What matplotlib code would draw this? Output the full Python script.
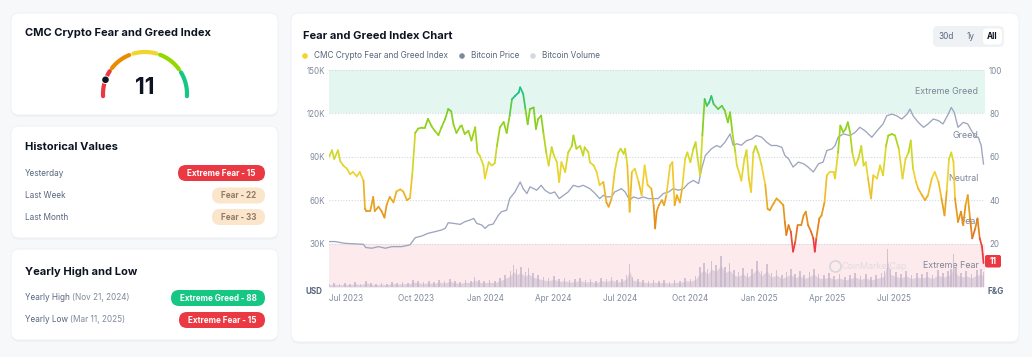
import numpy as np
import pandas as pd
import matplotlib
matplotlib.use("Agg")
import matplotlib.pyplot as plt
from matplotlib.patches import FancyBboxPatch, Circle
from matplotlib.collections import LineCollection
from matplotlib.colors import LinearSegmentedColormap
import matplotlib.dates as mdates

plt.rcParams["font.family"] = ["Inter", "DejaVu Sans"]

# ---------------- data ----------------
START = "2023-07-01"

fg_days = [0, 4, 7, 12, 15, 19, 24, 28, 32, 37, 41, 46, 48, 50, 55, 59, 61, 66, 70, 74, 77, 81, 86, 90,
           95, 99, 104, 108, 111, 115, 119, 124, 128, 132, 137, 141, 146, 150, 155, 159, 163, 166, 170, 175,
           177, 181, 186, 190, 195, 198, 201, 206, 208, 210, 213, 217, 221, 224, 228, 233, 237, 241, 244,
           248, 253, 255, 259, 262, 265, 268, 273, 276, 279, 283, 286, 290, 293, 297, 300, 304, 307, 310,
           315, 319, 324, 326, 330, 335, 339, 341, 346, 348, 353, 357, 361, 366, 370, 373, 377, 381, 386,
           389, 393, 395, 398, 401, 404, 408, 413, 417, 421, 425, 430, 433, 435, 437, 440, 444, 447, 450,
           455, 458, 461, 464, 468, 471, 475, 478, 482, 486, 489, 493, 495, 498, 501, 504, 507, 510, 513,
           519, 524, 528, 532, 535, 538, 542, 544, 547, 550, 554, 557, 560, 563, 566, 569, 573, 577, 582,
           585, 588, 593, 597, 602, 606, 608, 610, 613, 616, 619, 622, 625, 630, 633, 636, 639, 643, 646,
           648, 650, 654, 657, 661, 664, 668, 673, 675, 679, 682, 686, 689, 692, 695, 698, 702, 706, 710,
           713, 716, 719, 723, 726, 731, 735, 739, 743, 746, 751, 755, 760, 765, 769, 773, 776, 779, 783,
           786, 791, 795, 799, 804, 808, 813, 817, 821, 824, 827, 830, 833, 835, 839, 843, 846, 849, 852,
           855, 858, 862, 865, 868, 871, 872, 873]
fg_values = [60, 63, 59, 63, 58, 56, 54.5, 52, 53, 51, 53, 49, 36, 35, 35, 41.5, 35, 37, 35, 32, 38, 41.5, 39, 44,
             45, 44, 40, 41, 51.5, 71, 73, 73.5, 73.5, 77.5, 74, 72, 70, 73.5, 77.5, 82, 81, 75, 71, 74,
             74.4, 70.5, 72, 67.5, 73.6, 62, 60.6, 56, 50, 53, 57.5, 56, 57, 65, 73.6, 76, 71, 79, 86.5,
             88, 89.6, 92, 89, 82, 75, 82, 82.7, 72.8, 77.4, 79, 71, 61.4, 56, 64.4, 60.6, 57.5, 48.4, 57.5,
             53, 62, 65, 69.8, 63.7, 65, 60.6, 64.4, 62, 57.5, 56, 53, 47, 48.4, 39, 37, 40.8, 53, 62,
             63.7, 61.4, 63.7, 56, 34.7, 53, 54.5, 48.4, 42.3, 56, 47, 45.3, 37.7, 27, 34.7, 37.7, 40, 37.7, 42.3,
             56, 57.5, 37.7, 42.3, 39, 45.3, 59, 62, 57.5, 63.7, 66.7, 56, 51.5, 69.8, 86.6, 83.5, 85, 88, 84.3,
             82, 83.5, 81.2, 75.9, 80.5, 71.3, 62, 56, 53, 49, 59, 63, 50, 43.8, 62, 65, 61.4, 56, 47,
             36, 35.4, 38.5, 40.8, 39.2, 37.7, 30, 24, 28.5, 25.5, 16.3, 21, 28.5, 28.5, 33, 34.7, 28.5, 25.5, 22.4,
             16.3, 22.4, 31.6, 33, 39.2, 51.5, 53, 53, 50, 62, 74.4, 71.3, 72.8, 75.9, 71.3, 62, 56, 59, 65,
             56, 57.5, 50, 40.8, 51.5, 50, 56, 51.5, 65, 69.8, 70.5, 69.8, 63.7, 50, 59, 62, 67.5, 54.5, 48.4,
             45.3, 42.3, 40, 42.3, 50, 53, 48.4, 40.8, 33, 44.4, 59, 62, 57.5, 40.8, 30, 34.7, 28.5, 37.7, 42.3,
             31.6, 22.4, 27, 31.6, 22.4, 18.6, 15, 11]

price_days = [0, 8, 21, 35, 46, 49, 57, 66, 75, 84, 97, 108, 115, 124, 132, 141, 150, 155, 159, 166, 175,
              181, 188, 193, 197, 204, 208, 213, 219, 226, 230, 237, 241, 248, 255, 259, 264, 268, 273, 277,
              283, 288, 295, 301, 307, 313, 319, 326, 333, 339, 348, 355, 361, 366, 370, 377, 381, 386, 390,
              395, 401, 406, 413, 419, 426, 433, 439, 446, 453, 459, 466, 473, 479, 486, 493, 497, 502, 506,
              510, 517, 522, 528, 535, 539, 544, 550, 557, 564, 570, 577, 584, 590, 597, 604, 608, 613, 619,
              626, 633, 639, 646, 653, 659, 664, 671, 675, 679, 686, 695, 702, 708, 715, 724, 733, 739, 744,
              751, 757, 764, 771, 775, 779, 786, 793, 799, 806, 813, 819, 826, 830, 834, 839, 846, 852, 857,
              863, 866, 870, 871, 873]
price_values_k = [31.4, 31.4, 30.2, 29.8, 29.5, 27.3, 26.8, 27.9, 26.8, 27.9, 27.9, 29.1, 34.1, 35.3, 37.1, 38.2,
                  39.4, 40.5, 44.4, 44, 43.3, 45.1, 46.3, 47.4, 44, 42.8, 40.5, 42.8, 43.5, 49.7, 52, 53.1,
                  61.1, 65.7, 72.6, 68, 64.6, 69.2, 68, 66.9, 70.3, 66.9, 64.6, 65.7, 61.1, 63.4, 65.7, 70.3,
                  69.2, 70.3, 68, 64.6, 61.1, 63.4, 62.3, 62.3, 65.7, 66.9, 68, 65.7, 60, 62.3, 61.1, 62.3,
                  61.1, 61.1, 61.1, 64.6, 65.7, 68, 66.9, 68, 71.5, 73.7, 71.5, 81.8, 90.9, 93.2, 95.5, 97.8,
                  96.6, 100, 105.8, 98, 99, 98, 101.2, 102.3, 104.7, 103.6, 100, 97.8, 97.8, 96.6, 90.9, 88.6,
                  82.9, 86.3, 85.2, 82.9, 79.5, 85.2, 86.3, 94.3, 95.5, 97.8, 103.5, 105.8, 104.7, 107, 110.4,
                  108, 103.5, 109.2, 112.7, 118.4, 119.5, 118.4, 116.1, 119.5, 123, 118.4, 113.8, 110.4,
                  112.7, 116.1, 115, 112.7, 119.5, 124.1, 120.7, 110.4, 113.8, 112.7, 108, 103.5, 103.5,
                  97.8, 93, 85]

vol_days = [0, 7, 14, 21, 28, 35, 42, 49, 56, 63, 70, 77, 84, 91, 98, 105, 112, 119, 126, 133, 140, 147,
            154, 161, 168, 175, 182, 189, 194, 200, 207, 214, 221, 228, 235, 242, 246, 250, 256, 262, 266,
            272, 279, 286, 293, 300, 307, 314, 321, 328, 335, 342, 349, 356, 363, 370, 377, 384, 391, 397,
            401, 405, 412, 419, 426, 433, 440, 447, 454, 461, 468, 475, 482, 489, 495, 500, 505, 510, 516,
            523, 528, 534, 540, 546, 552, 558, 564, 571, 577, 584, 590, 597, 604, 610, 616, 622, 628, 634,
            641, 647, 653, 660, 667, 674, 681, 688, 695, 702, 709, 716, 723, 730, 737, 741, 745, 749, 756,
            763, 770, 777, 784, 791, 798, 805, 812, 819, 826, 830, 833, 836, 843, 850, 857, 864, 870, 873]
vol_values_b = [7.5, 10, 7.5, 10, 7.5, 12.5, 7.5, 15, 10, 7.5, 10, 7.5, 12.5, 10, 12.5, 10, 17.5, 15, 12.5,
                15, 12.5, 17.5, 15, 20, 15, 12.5, 17.5, 15, 25, 17.5, 15, 17.5, 15, 22.5, 30, 40, 55, 45, 50,
                37.5, 47.5, 35, 30, 25, 22.5, 27.5, 20, 22.5, 17.5, 20, 22.5, 17.5, 20, 15, 22.5, 20, 25, 17.5,
                20, 30, 57.5, 25, 20, 17.5, 15, 17.5, 15, 17.5, 12.5, 17.5, 15, 22.5, 20, 27.5, 50, 60, 45, 65,
                55, 77.5, 50, 60, 42.5, 37.5, 47.5, 35, 45, 65, 40, 57.5, 35, 42.5, 30, 37.5, 45, 32.5, 40, 30,
                37.5, 45, 32.5, 30, 35, 27.5, 32.5, 25, 30, 35, 27.5, 32.5, 25, 30, 35, 40, 95, 45, 37.5, 32.5,
                40, 30, 35, 32.5, 37.5, 30, 42.5, 35, 40, 45, 82.5, 47.5, 35, 40, 32.5, 42.5, 45, 37.5]

price_ticks_k = [30, 60, 90, 120, 150]
fg_ticks = [20, 40, 60, 80, 100]
x_tick_dates = ["2023-07-01", "2023-10-01", "2024-01-01", "2024-04-01", "2024-07-01",
                "2024-10-01", "2025-01-01", "2025-04-01", "2025-07-01"]
zone_names = ["Extreme Fear", "Fear", "Neutral", "Greed", "Extreme Greed"]
zone_centers = [10, 30, 50, 70, 90]

historical_labels = ["Yesterday", "Last Week", "Last Month"]
historical_pills = ["Extreme Fear - 15", "Fear - 22", "Fear - 33"]
yearly_labels = [("Yearly High", "(Nov 21, 2024)"), ("Yearly Low", "(Mar 11, 2025)")]
yearly_pills = ["Extreme Greed - 88", "Extreme Fear - 15"]
current_value = 11

# ---------------- style ----------------
W, H = 1032, 357
PAGE = "#f7f8fa"
DARK = "#0d1421"
GREY = "#58667e"
LGREY = "#808a9d"
RED = "#ea3943"
GREEN = "#16c784"
PEACH = "#fbe6cb"
PEACH_TXT = "#8d7a68"
TITLE_FS = 8.0
BODY_FS = 5.9
PILL_FS = 5.8

fig = plt.figure(figsize=(W / 100, H / 100), dpi=100, facecolor=PAGE)
bg = fig.add_axes([0, 0, 1, 1])
bg.set_xlim(0, W)
bg.set_ylim(H, 0)
bg.axis("off")
bg.set_zorder(0)

top = fig.add_axes([0, 0, 1, 1])
top.set_xlim(0, W)
top.set_ylim(H, 0)
top.axis("off")
top.set_zorder(10)
top.patch.set_alpha(0)


def card(x0, y0, x1, y1):
    bg.add_patch(FancyBboxPatch((x0, y0 + 1.5), x1 - x0, y1 - y0, boxstyle="round,pad=0,rounding_size=8",
                                fc="#eceef2", ec="none", zorder=1))
    bg.add_patch(FancyBboxPatch((x0, y0), x1 - x0, y1 - y0, boxstyle="round,pad=0,rounding_size=8",
                                fc="white", ec="#eef0f3", lw=0.6, zorder=2))


def pill(x0, x1, yc, h, fc, text, tc):
    bg.add_patch(FancyBboxPatch((x0, yc - h / 2), x1 - x0, h, boxstyle=f"round,pad=0,rounding_size={h/2}",
                                fc=fc, ec="none", zorder=3))
    bg.text((x0 + x1) / 2, yc + 0.3, text, ha="center", va="center", fontsize=PILL_FS, color=tc,
            fontweight="bold", zorder=4)


card(11, 13, 278, 115)
card(11, 126, 278, 238)
card(11, 249, 278, 340)
card(291, 13, 1019, 342)

# card 1: gauge
bg.text(25, 33, "CMC Crypto Fear and Greed Index", fontsize=TITLE_FS, fontweight="bold", color=DARK,
        va="center", ha="left", zorder=4)
cx, cy, r = 145, 94, 42
gauge_segments = [(183, 166, RED), (155, 147, RED), (142, 112, "#ea8c00"), (106, 74, "#f3d42f"),
                  (69, 36, "#93d900"), (31, -3, GREEN)]
for a0, a1, col in gauge_segments:
    t = np.radians(np.linspace(a0, a1, 40))
    bg.plot(cx + r * np.cos(t), cy - r * np.sin(t), color=col, lw=3.0, solid_capstyle="round", zorder=4)
ang = np.radians(180 - current_value / 100 * 180)
bg.add_patch(Circle((cx + r * np.cos(ang), cy - r * np.sin(ang)), 4.2, fc="white", ec="none", zorder=5))
bg.add_patch(Circle((cx + r * np.cos(ang), cy - r * np.sin(ang)), 3.3, fc=DARK, ec="none", zorder=6))
bg.text(cx, 88, str(current_value), fontsize=16.5, fontweight="bold", color=DARK, ha="center", va="center",
        zorder=4)

# card 2: historical values
bg.text(25, 147, "Historical Values", fontsize=TITLE_FS, fontweight="bold", color=DARK, va="center", zorder=4)
hist_y = [173, 195.5, 217]
for lab, yy in zip(historical_labels, hist_y):
    bg.text(25, yy, lab, fontsize=BODY_FS, color=GREY, va="center", zorder=4)
hist_x0 = [178, 212, 212]
hist_fc = [RED, PEACH, PEACH]
hist_tc = ["white", PEACH_TXT, PEACH_TXT]
for x0, yy, fc, tc, pl in zip(hist_x0, hist_y, hist_fc, hist_tc, historical_pills):
    pill(x0, 265, yy, 16, fc, pl, tc)

# card 3: yearly high / low
bg.text(25, 272, "Yearly High and Low", fontsize=TITLE_FS, fontweight="bold", color=DARK, va="center", zorder=4)
yr_y = [298, 320]
for (a, b), yy in zip(yearly_labels, yr_y):
    t1 = bg.text(25, yy, a + " ", fontsize=BODY_FS, color=GREY, va="center", zorder=4)
    bg.annotate(b, xycoords=t1, xy=(1, 0.5), va="center", fontsize=BODY_FS, color=LGREY, zorder=4)
pill(171, 265, yr_y[0], 16, GREEN, yearly_pills[0], "white")
pill(179, 265, yr_y[1], 16, RED, yearly_pills[1], "white")

# chart card header
bg.text(303, 36, "Fear and Greed Index Chart", fontsize=TITLE_FS, fontweight="bold", color=DARK, va="center",
        zorder=4)
legend_items = [(305, "#f3d42f", "CMC Crypto Fear and Greed Index"), (462, LGREY, "Bitcoin Price"),
                (533, "#d3d8e2", "Bitcoin Volume")]
for lx, col, txt in legend_items:
    bg.add_patch(Circle((lx, 56), 2.8, fc=col, ec="none", zorder=4))
    bg.text(lx + 9, 56, txt, fontsize=BODY_FS, color=GREY, va="center", zorder=4)

bg.add_patch(FancyBboxPatch((933, 26), 71, 21, boxstyle="round,pad=0,rounding_size=5", fc="#eff2f5",
                            ec="none", zorder=3))
bg.add_patch(FancyBboxPatch((983, 28.5), 19, 16, boxstyle="round,pad=0,rounding_size=4", fc="white",
                            ec="none", zorder=4))
bg.text(946, 36.5, "30d", fontsize=BODY_FS, color=GREY, ha="center", va="center", zorder=5)
bg.text(971, 36.5, "1y", fontsize=BODY_FS, color=GREY, ha="center", va="center", zorder=5)
bg.text(992.5, 36.5, "All", fontsize=BODY_FS, color=DARK, ha="center", va="center", fontweight="bold", zorder=5)

bg.text(305, 291, "USD", fontsize=5.8, color=GREY, fontweight="bold", va="center", zorder=4)
bg.text(988, 291, "F&G", fontsize=5.8, color=GREY, fontweight="bold", va="center", zorder=4)

# ---------------- chart ----------------
L, R, T, B = 329, 985, 70, 287
start = pd.Timestamp(START)
ax = fig.add_axes([L / W, 1 - B / H, (R - L) / W, (B - T) / H])
ax.set_zorder(1)
ax.patch.set_alpha(0)
x0n = mdates.date2num(start)
ax.set_xlim(x0n, x0n + 875)
ax.set_ylim(0, 100)
ax.axhspan(80, 100, color="#e4f6f0", lw=0, zorder=0)
ax.axhspan(0, 20, color="#fdeaec", lw=0, zorder=0)
for v in fg_ticks:
    ax.axhline(v, color="#d3d8df", lw=0.8, ls=(0, (1, 1.5)), zorder=1)
for name, c in zip(zone_names, zone_centers):
    ax.text(0.99, c, name, transform=ax.get_yaxis_transform(), ha="right", va="center", fontsize=6.4,
            color="#7d8698", zorder=2)
# faint watermark (logo ring + name), kept left of the "Extreme Fear" zone label
ax.plot([0.772], [9.5], transform=ax.get_yaxis_transform(), marker="o", ms=8, mfc="none", mec="#cfd2da",
        mew=1.2, alpha=0.8, zorder=1)
ax.text(0.781, 9.5, "CoinMarketCap", transform=ax.get_yaxis_transform(), ha="left", va="center",
        fontsize=6.4, color="#cfd2da", alpha=0.6, zorder=1)
ax.set_xticks(mdates.date2num(pd.to_datetime(x_tick_dates)))
ax.xaxis.set_major_formatter(mdates.DateFormatter("%b %Y"))
ax.tick_params(axis="x", length=0, pad=5, labelsize=5.9, labelcolor=LGREY)
for lab in ax.get_xticklabels():
    lab.set_horizontalalignment("left")
for s in ax.spines.values():
    s.set_visible(False)

vol_dates = start + pd.to_timedelta(vol_days, unit="D")
vol_x = mdates.date2num(vol_dates)
axv = ax.twinx()
axv.set_zorder(2)
axv.patch.set_alpha(0)
axv.fill_between(vol_x, 0, np.asarray(vol_values_b) * 0.7, color="#c9bccf", alpha=0.55, lw=0)
axv.bar(vol_x, vol_values_b, width=2.2, color="#c4b4cb", alpha=0.75, lw=0)
axv.set_ylim(0, 542)
axv.axis("off")

price_dates = start + pd.to_timedelta(price_days, unit="D")
axp = ax.twinx()
axp.set_zorder(3)
axp.patch.set_alpha(0)
axp.plot(mdates.date2num(price_dates), price_values_k, color="#9ea5bd", lw=0.95)
axp.set_ylim(0, 150)
axp.yaxis.tick_left()
axp.yaxis.set_label_position("left")
axp.set_yticks(price_ticks_k)
axp.set_yticklabels([f"{v}K" for v in price_ticks_k])
axp.tick_params(axis="y", length=0, pad=3, labelsize=5.8, labelcolor=LGREY, labelleft=True, labelright=False)
for s in axp.spines.values():
    s.set_visible(False)

fg_dates = start + pd.to_timedelta(fg_days, unit="D")
axf = ax.twinx()
axf.set_zorder(4)
axf.patch.set_alpha(0)
axf.set_ylim(0, 100)
axf.axis("off")
cmap = LinearSegmentedColormap.from_list("fg", [(0.0, RED), (0.19, RED), (0.26, "#e2801a"),
                                                (0.40, "#e9a820"), (0.50, "#f2d232"), (0.60, "#d6d92a"),
                                                (0.70, "#98d416"), (0.80, "#7fcf20"), (0.88, "#1cbf86"),
                                                (1.0, GREEN)])
xs = mdates.date2num(fg_dates)
ys = np.asarray(fg_values, dtype=float)
pts = np.column_stack([xs, ys]).reshape(-1, 1, 2)
segs = np.concatenate([pts[:-1], pts[1:]], axis=1)
lc = LineCollection(segs, colors=cmap(((ys[:-1] + ys[1:]) / 2) / 100), lw=1.25, capstyle="round",
                    joinstyle="round")
axf.add_collection(lc)

# F&G tick labels on the right of the base axes (set after twinx, which moves them)
ax.yaxis.tick_right()
ax.set_yticks(fg_ticks)
ax.set_yticklabels([str(v) for v in fg_ticks])
ax.tick_params(axis="y", length=0, pad=3, labelsize=5.8, labelcolor=LGREY, labelleft=False, labelright=True)

# current value badge
top.add_patch(FancyBboxPatch((985, 255), 16, 12.5, boxstyle="round,pad=0,rounding_size=2", fc=RED,
                             ec="none", zorder=6))
top.text(993, 261.5, str(current_value), fontsize=5.8, color="white", fontweight="bold", ha="center",
         va="center", zorder=7)

fig.savefig("out.png", dpi=100, facecolor=PAGE)
